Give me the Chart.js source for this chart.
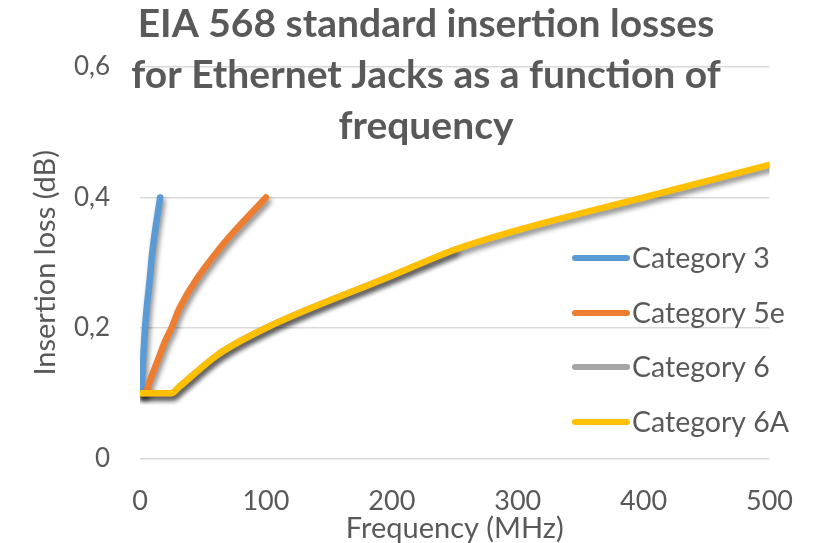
<!DOCTYPE html>
<html>
<head>
<meta charset="utf-8">
<script src="https://cdn.jsdelivr.net/npm/chart.js@4/dist/chart.umd.min.js"></script>
<style>
  html, body { margin: 0; padding: 0; background: #ffffff; }
  #wrap { width: 820px; height: 543px; }
</style>
</head>
<body>
<div id="wrap"><canvas id="chart" width="820" height="543"></canvas></div>
<script>
// Insertion loss (dB) of connecting hardware versus frequency (MHz)
const freqCat3  = [1, 4, 8, 10, 16];
const lossCat3  = [0.10, 0.20, 0.28, 0.32, 0.40];

const freqCat5e = [1, 4, 8, 10, 16, 20, 25, 31.25, 62.5, 100];
const lossCat5e = [0.10, 0.10, 0.12, 0.13, 0.16, 0.18, 0.20, 0.23, 0.32, 0.40];

const freqCat6  = [1, 4, 8, 10, 16, 20, 25, 31.25, 62.5, 100, 200, 250];
const lossCat6  = [0.10, 0.10, 0.10, 0.10, 0.10, 0.10, 0.10, 0.11, 0.16, 0.20, 0.28, 0.32];

const freqCat6A = [1, 4, 8, 10, 16, 20, 25, 31.25, 62.5, 100, 200, 250, 300, 400, 500];
const lossCat6A = [0.10, 0.10, 0.10, 0.10, 0.10, 0.10, 0.10, 0.11, 0.16, 0.20, 0.28, 0.32, 0.35, 0.40, 0.45];

const seriesNames  = ['Category 3', 'Category 5e', 'Category 6', 'Category 6A'];
const seriesColors = ['#5B9BD5', '#ED7D31', '#A5A5A5', '#FFC000'];

const titleLines = ['EIA 568 standard insertion losses', 'for Ethernet Jacks as a function of', 'frequency'];
const xTicks = [0, 100, 200, 300, 400, 500];
const yTicks = [0, 0.2, 0.4, 0.6];

const TEXT = '#595959';
const FONT = 'Lato, "Open Sans", sans-serif';

function points(xs, ys) { return xs.map((x, i) => ({ x: x, y: ys[i] })); }

const seriesData = [
  points(freqCat3, lossCat3),
  points(freqCat5e, lossCat5e),
  points(freqCat6, lossCat6),
  points(freqCat6A, lossCat6A)
];

// soft drop shadow under every line
const lineShadow = {
  id: 'lineShadow',
  beforeDatasetDraw(chart) {
    const c = chart.ctx;
    c.save();
    c.shadowColor = 'rgba(0,0,0,0.45)';
    c.shadowBlur = 5;
    c.shadowOffsetX = 2;
    c.shadowOffsetY = 4;
  },
  afterDatasetDraw(chart) { chart.ctx.restore(); }
};

// title laid over the top of the plot area
const overlayTitle = {
  id: 'overlayTitle',
  afterDraw(chart) {
    const c = chart.ctx;
    c.save();
    c.fillStyle = TEXT;
    c.font = 'bold 39px ' + FONT;
    c.textAlign = 'center';
    c.textBaseline = 'alphabetic';
    const baselines = [37, 88, 139];
    titleLines.forEach((t, i) => c.fillText(t, 426, baselines[i]));
    c.restore();
  }
};

// legend placed inside the plot area on the right
const insideLegend = {
  id: 'insideLegend',
  afterDraw(chart) {
    const c = chart.ctx;
    c.save();
    c.font = '28.5px ' + FONT;
    c.textAlign = 'left';
    c.textBaseline = 'alphabetic';
    const rows = [258, 313, 367, 422];
    seriesNames.forEach((name, i) => {
      c.strokeStyle = seriesColors[i];
      c.lineWidth = 6;
      c.lineCap = 'round';
      c.beginPath();
      c.moveTo(575, rows[i]);
      c.lineTo(627, rows[i]);
      c.stroke();
      c.fillStyle = TEXT;
      c.fillText(name, 632, rows[i] + 10);
    });
    c.restore();
  }
};

const ctx = document.getElementById('chart').getContext('2d');
new Chart(ctx, {
  type: 'line',
  data: {
    datasets: seriesNames.map((name, i) => ({
      label: name,
      data: seriesData[i],
      borderColor: seriesColors[i],
      backgroundColor: seriesColors[i],
      borderWidth: 6.5,
      borderCapStyle: 'round',
      borderJoinStyle: 'round',
      pointRadius: 0,
      cubicInterpolationMode: 'monotone',
      fill: false,
      order: seriesNames.length - i
    }))
  },
  options: {
    responsive: false,
    animation: false,
    events: [],
    layout: { padding: { left: 0, top: 67, right: 48, bottom: 0 } },
    plugins: {
      legend: { display: false },
      title: { display: false },
      tooltip: { enabled: false }
    },
    scales: {
      x: {
        type: 'linear',
        min: 0,
        max: 500,
        afterBuildTicks(scale) { scale.ticks = xTicks.map(v => ({ value: v })); },
        afterFit(scale) { scale.height = 84.5; },
        grid: { display: false, drawTicks: false },
        border: { display: false },
        ticks: {
          color: TEXT,
          font: { family: FONT, size: 27, lineHeight: 1.2 },
          padding: 27,
          maxRotation: 0
        },
        title: {
          display: true,
          text: 'Frequency (MHz)',
          color: TEXT,
          font: { family: FONT, size: 29, lineHeight: 1 },
          padding: { top: 0, bottom: 0 }
        }
      },
      y: {
        type: 'linear',
        min: 0,
        max: 0.6,
        afterBuildTicks(scale) { scale.ticks = yTicks.map(v => ({ value: v })); },
        afterFit(scale) { scale.width = 140; },
        grid: { color: '#D9D9D9', lineWidth: 1.5, drawTicks: false },
        border: { display: false },
        ticks: {
          color: TEXT,
          font: { family: FONT, size: 26 },
          padding: 30,
          callback: v => String(v).replace('.', ',')
        },
        title: {
          display: true,
          text: 'Insertion loss (dB)',
          color: TEXT,
          font: { family: FONT, size: 29, lineHeight: 1.2 },
          padding: { top: 28, bottom: 0 }
        }
      }
    }
  },
  plugins: [lineShadow, overlayTitle, insideLegend]
});
</script>
</body>
</html>
